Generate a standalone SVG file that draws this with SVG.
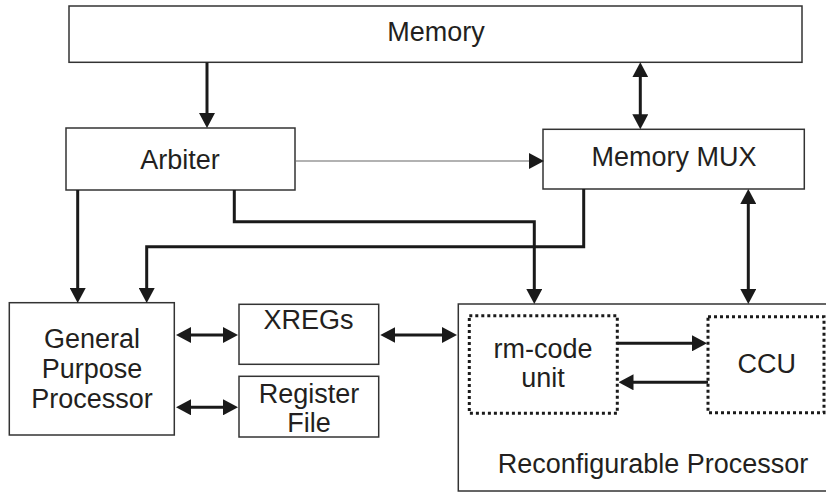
<svg xmlns="http://www.w3.org/2000/svg" width="826" height="492" viewBox="0 0 826 492">
<style>
.box{fill:#fff;stroke:#333;stroke-width:1.5}
.dot{fill:none;stroke:#1a1a1a;stroke-width:3;stroke-dasharray:3 3}
.t{font-family:"Liberation Sans",Arial,sans-serif;font-size:27px;fill:#231f20;text-anchor:middle}
.c{fill:none;stroke:#1a1a1a;stroke-width:3;stroke-linejoin:miter}
.thin{fill:none;stroke:#666;stroke-width:1.2}
</style>
<defs>
<marker id="ah" viewBox="0 0 15 16" refX="2" refY="8" markerWidth="15" markerHeight="16" markerUnits="userSpaceOnUse" orient="auto-start-reverse">
<path d="M0,0 L15,8 L0,16 z" fill="#1a1a1a"/>
</marker>
</defs>
<g id="memory"><rect class="box" x="69" y="6" width="733" height="56.3"/><text class="t" x="436" y="41.3">Memory</text></g>
<g id="arbiter"><rect class="box" x="66" y="128" width="229" height="62"/><text class="t" x="180" y="169">Arbiter</text></g>
<g id="memory-mux"><rect class="box" x="543" y="129.3" width="261.3" height="59.7"/><text class="t" x="674" y="166">Memory MUX</text></g>
<g id="gpp"><rect class="box" x="9.3" y="302.7" width="165" height="132.3"/><text class="t" x="92"><tspan x="92" y="347.7">General</tspan><tspan x="92" y="377.7">Purpose</tspan><tspan x="92" y="407.7">Processor</tspan></text></g>
<g id="xregs"><rect class="box" x="239" y="304.3" width="139.7" height="60"/><text class="t" x="308.5" y="329">XREGs</text></g>
<g id="register-file"><rect class="box" x="239" y="376.3" width="139.7" height="60.7"/><text class="t" x="309"><tspan x="309" y="402.7">Register</tspan><tspan x="309" y="432.3">File</tspan></text></g>
<g id="reconfigurable-processor"><rect class="box" x="458.3" y="304" width="380" height="187"/><text class="t" x="653" y="473.3">Reconfigurable Processor</text></g>
<g id="rm-code-unit"><rect class="dot" x="469.3" y="315.7" width="148" height="97.6"/><text class="t" x="543"><tspan x="543" y="358">rm-code</tspan><tspan x="543" y="387.3">unit</tspan></text></g>
<g id="ccu"><rect class="dot" x="708" y="316.7" width="116" height="96"/><text class="t" x="766.7" y="372.7">CCU</text></g>
<g id="connectors">
<path class="c" d="M207,62.3 V115" marker-end="url(#ah)"/>
<path class="c" d="M640.3,75.3 V116.3" marker-start="url(#ah)" marker-end="url(#ah)"/>
<path class="thin" d="M295,161 H531" marker-end="url(#ah)"/>
<path class="c" d="M77.7,190 V290" marker-end="url(#ah)"/>
<path class="c" d="M234.3,190 V221.7 H534.3 V291" marker-end="url(#ah)"/>
<path class="c" d="M583.7,189 V246.7 H146.7 V290" marker-end="url(#ah)"/>
<path class="c" d="M748.3,202 V291" marker-start="url(#ah)" marker-end="url(#ah)"/>
<path class="c" d="M189,335 H225" marker-start="url(#ah)" marker-end="url(#ah)"/>
<path class="c" d="M189,407.3 H225" marker-start="url(#ah)" marker-end="url(#ah)"/>
<path class="c" d="M393.3,335 H444" marker-start="url(#ah)" marker-end="url(#ah)"/>
<path class="c" d="M617.3,343.3 H694" marker-end="url(#ah)"/>
<path class="c" d="M708,382.3 H631.5" marker-end="url(#ah)"/>
</g>
</svg>
